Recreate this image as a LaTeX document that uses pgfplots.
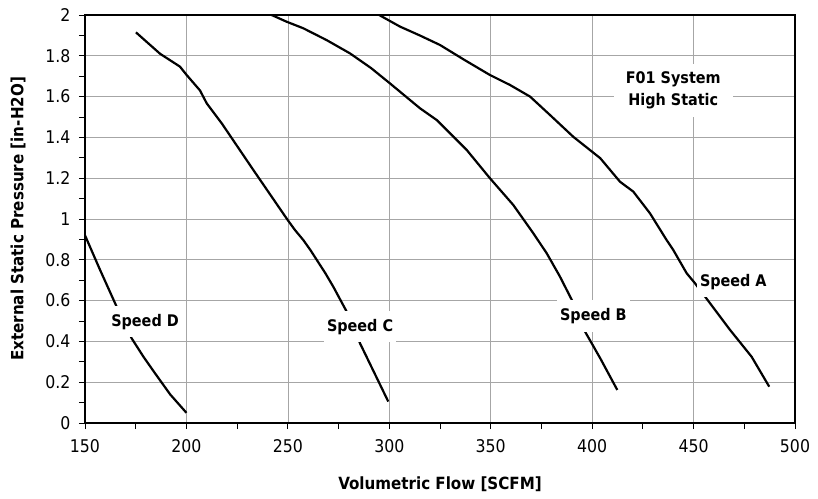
\documentclass[border=0pt]{standalone}
\usepackage{fontspec}
\setmainfont{DejaVu Sans Condensed}
\usepackage{pgfplots}
\pgfplotsset{compat=1.18}

\begin{document}
\begin{tikzpicture}
\pgfplotsset{curve/.style={black, line width=2.2pt, no markers}}
\begin{axis}[name=ax, scale only axis, width=710pt, height=408pt,
    xmin=150, xmax=500, ymin=0, ymax=2,
    xtick={150,200,...,500}, ytick={0,0.2,...,2},
    minor x tick num=1, minor y tick num=1,
    tick align=outside, xtick pos=left, ytick pos=left,
    major tick length=6pt, minor tick length=6pt,
    tick style={black, line width=0.9pt},
    grid=major, major grid style={gray!70, line width=0.7pt},
    axis line style={black, line width=2.4pt},
    /pgf/number format/assume math mode=true,
    ticklabel style={font=\fontsize{17.5}{19}\selectfont},
    xticklabel style={yshift=-7pt},
    yticklabel style={xshift=-5pt},
    xlabel={\textbf{Volumetric Flow [SCFM]}},
    ylabel={\textbf{External Static Pressure [in-H2O]}},
    label style={font=\fontsize{16.8}{18}\selectfont},
    xlabel style={at={(rel axis cs:0.5,0)}, anchor=center, yshift=-61pt},
    ylabel style={at={(rel axis cs:0,0.5)}, anchor=center, yshift=67pt}]

% Speed A
\addplot[curve] coordinates {(295,2.0) (305.3,1.943) (315,1.90) (325,1.853) (337,1.78) (349.6,1.706) (359.5,1.657) (369.4,1.6) (379.2,1.51) (390.7,1.403) (404,1.298) (413.7,1.183) (420.3,1.134) (428.5,1.028) (436.7,0.897) (440,0.848) (446.6,0.734) (450.7,0.685) (458.1,0.587) (468,0.456) (478.6,0.325) (487.3,0.178)};
% Speed B
\addplot[curve] coordinates {(242,2.0) (249.4,1.967) (257.6,1.935) (269.1,1.877) (280.6,1.812) (291,1.74) (300.3,1.665) (315.1,1.543) (323.4,1.485) (338.2,1.338) (349.6,1.2) (361.1,1.069) (371,0.93) (377.6,0.832) (384,0.72) (390,0.603) (396.5,0.448) (404,0.317) (412.4,0.162)};
% Speed C
\addplot[curve] coordinates {(175.1,1.915) (187,1.81) (196.8,1.747) (200.1,1.706) (206.7,1.63) (210,1.567) (217.4,1.469) (233,1.24) (249.7,0.998) (253.5,0.946) (257.6,0.897) (261.1,0.848) (268.5,0.734) (272.4,0.668) (279,0.546) (285.6,0.39) (299.5,0.105)};
% Speed D
\addplot[curve] coordinates {(150,0.92) (157,0.76) (165.6,0.57) (173,0.415) (178.8,0.325) (184.5,0.244) (192,0.14) (200,0.05)};

\tikzset{lbl/.style={fill=white, inner xsep=3pt, inner ysep=8pt, font=\fontsize{16}{18}\selectfont\bfseries}}
\node[lbl] at (axis cs:469.6,0.693) {Speed A};
\node[lbl] at (axis cs:400.6,0.525) {Speed B};
\node[lbl] at (axis cs:285.6,0.472) {Speed C};
\node[lbl] at (axis cs:179.6,0.497) {Speed D};
\node[fill=white, align=center, inner xsep=12pt, inner ysep=8pt, font=\fontsize{16}{22}\selectfont\bfseries] at (axis cs:440,1.63) {F01 System\\High Static};
\end{axis}
\pgfresetboundingbox
\path ([shift={(-85pt,-75pt)}]ax.south west) rectangle ([shift={(23pt,15pt)}]ax.north east);
\end{tikzpicture}
\end{document}
